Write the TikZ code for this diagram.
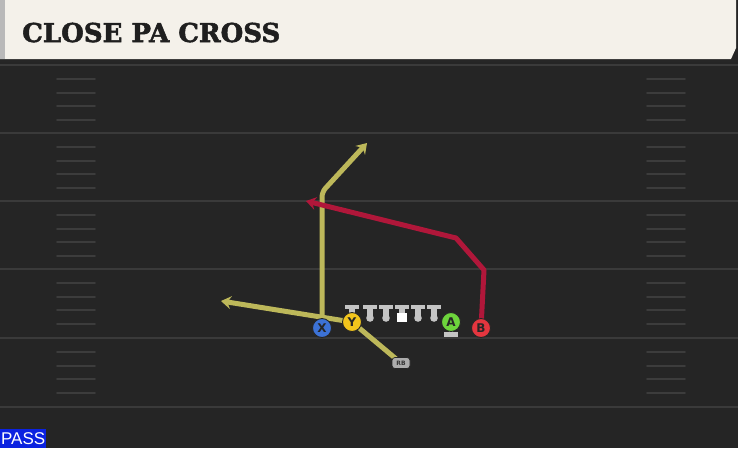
\documentclass[tikz,border=0pt]{standalone}
\usepackage{fontspec}
\setmainfont{DejaVu Sans}
\newfontfamily\titlefont[FakeBold=2]{DejaVu Serif}
\newfontfamily\passfont{Liberation Sans}
\usetikzlibrary{positioning}
\usetikzlibrary{arrows.meta}
\pgfdeclarelayer{field}
\pgfdeclarelayer{routes}
\pgfsetlayers{field,routes,main}
\definecolor{fieldbg}{HTML}{252525}
\definecolor{titlebg}{HTML}{F4F1EA}
\definecolor{linegray}{HTML}{3A3A3A}
\definecolor{hashgray}{HTML}{3C3C3C}
\definecolor{olgray}{HTML}{C4C4C4}
\definecolor{routeyel}{HTML}{BDB85A}
\definecolor{routered}{HTML}{B0173A}
\definecolor{xblue}{HTML}{3C72D6}
\definecolor{yyel}{HTML}{F2C51C}
\definecolor{agreen}{HTML}{6DD43C}
\definecolor{bred}{HTML}{E4363F}
\definecolor{passblue}{HTML}{0B22E0}
\tikzset{
    plyr/.style = {circle, draw=black!85, line width=0.9pt, minimum size=19pt, inner sep=0pt, font=\fontsize{12}{12}\selectfont\bfseries, text=black!85},
    plyrb/.style = {plyr, fill=xblue},
    plyry/.style = {plyr, fill=yyel},
    plyrg/.style = {plyr, fill=agreen},
    plyrr/.style = {plyr, fill=bred},
    rbbox/.style = {rounded corners=3pt, draw=black!85, fill=gray!65, line width=0.7pt, minimum width=18pt, minimum height=11pt, inner sep=0pt, font=\fontsize{6}{6}\selectfont\bfseries, text=black!80},
    routey/.style = {line width=5pt, draw=routeyel, line join=round, rounded corners=5pt},
    router/.style = {line width=5pt, draw=routered, line join=round},
    tip/.style = {-{Stealth[length=10pt,width=13pt,inset=3.5pt]}},
    yardline/.style = {linegray, line width=2pt},
    hashmk/.style = {hashgray, line width=1.6pt, line cap=round},
    titletxt/.style = {font=\titlefont\fontsize{26}{26}\selectfont\bfseries, text=black!88, inner sep=0pt},
    passbox/.style = {fill=passblue, text=white, font=\passfont\fontsize{17}{17}\selectfont, minimum width=46pt, minimum height=19pt, inner sep=0pt},
    lman/.pic = {\fill[olgray] (-7,-2) rectangle (7,2); \fill[olgray] (-2.8,0) rectangle (2.8,11); \fill[olgray] (0,11) circle (3.8);},
    cman/.pic = {\fill[olgray] (-7,-2) rectangle (7,2); \fill[olgray] (-2.8,0) rectangle (2.8,7); \fill[white] (-5,6) rectangle (5,15);}
}

\begin{document}
\begin{tikzpicture}[x=1pt, y=-1pt]
  \useasboundingbox (0,0) rectangle (738,448);

  % field
  \begin{pgfonlayer}{field}
    \fill[fieldbg] (0,0) rectangle (738,448);
    \fill[black!85] (0,59) rectangle (738,62);
    \foreach \y in {65,133,201,269,338,407}
      \draw[yardline] (0,\y) -- (738,\y);
    \foreach \y in {65,133,201,269,338}
      \foreach \d in {14,28,41,55} {
        \draw[hashmk] (57,\y+\d) -- (95,\y+\d);
        \draw[hashmk] (647,\y+\d) -- (685,\y+\d);
      }
    \fill[titlebg] (0,0) -- (736,0) -- (736,48) -- (731,59) -- (0,59) -- cycle;
    \fill[gray!55] (0,0) rectangle (5,59);
  \end{pgfonlayer}

  \node[titletxt, anchor=base west] (title) at (22,42) {CLOSE PA CROSS};

  % line
  \pic at (352,307) {lman};
  \foreach \x in {370,386,418,434}
    \pic at (\x,307) {lman};
  \pic at (402,307) {cman};
  \fill[olgray] (449,325) rectangle (453,334);
  \fill[olgray] (444,332) rectangle (458,337);

  % players
  \node[plyrb] (x) at (322,328) {X};
  \node[plyry] (y) at (352,322) {Y};
  \node[plyrg] (a) at (451,322) {A};
  \node[plyrr] (b) at (481,328) {B};
  \node[rbbox] (rb) at (401,363) {RB};

  \coordinate (xbrk) at (322,192);
  \coordinate (xend) at (367,143);
  \coordinate (yend) at (221,301);
  \coordinate (bup) at (484,270);
  \coordinate (bbrk) at (456,238);
  \coordinate (bend) at (306,201);

  % routes
  \begin{pgfonlayer}{routes}
    \draw[routey, tip] (x.center) -- (xbrk) -- (xend);
    \draw[routey, tip] (y.center) -- (yend);
    \draw[routey] (y.center) -- (rb.center);
    \draw[router, tip] (b.center) -- (bup) -- (bbrk) -- (bend);
  \end{pgfonlayer}

  \node[passbox, anchor=south west] (pass) at (0,448) {PASS};
\end{tikzpicture}
\end{document}
